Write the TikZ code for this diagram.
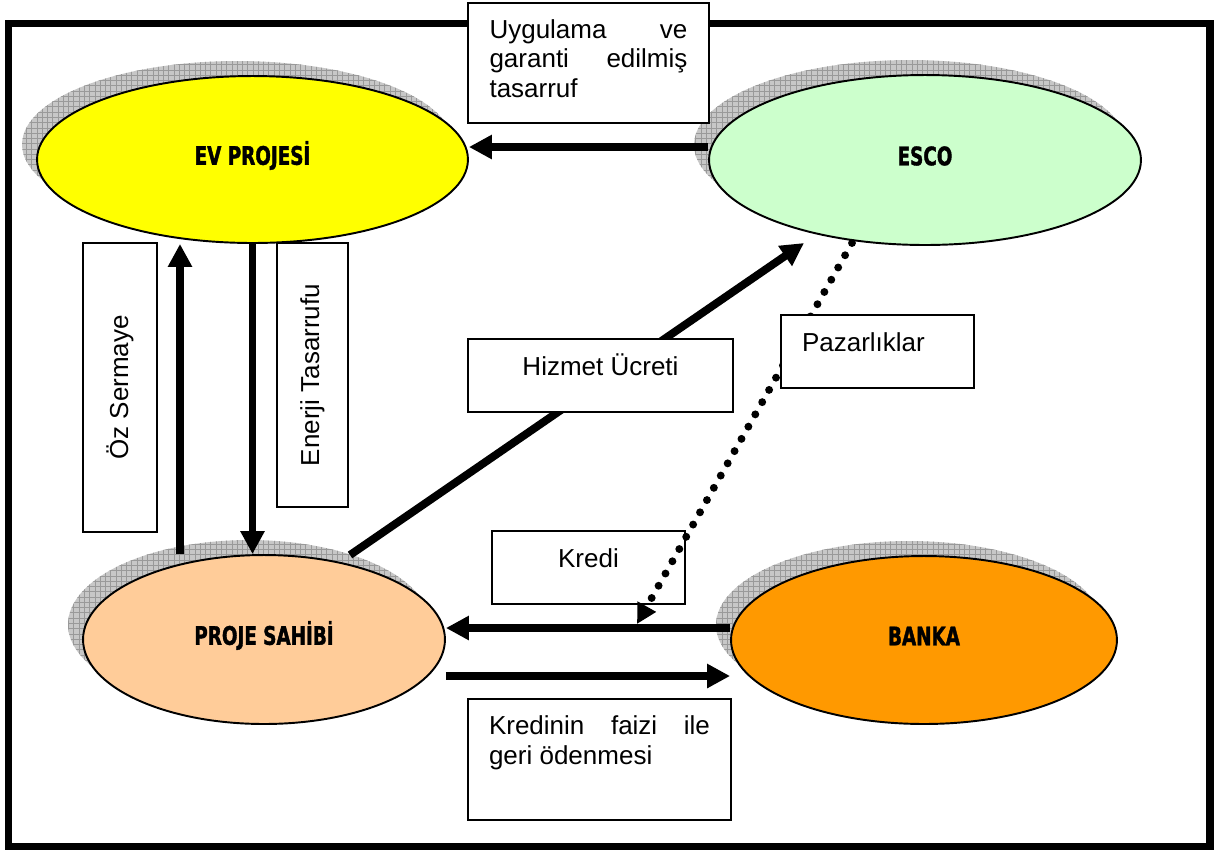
\documentclass[tikz,border=0pt]{standalone}
\usepackage{fontspec}
\setmainfont{Liberation Sans}
\newfontfamily\ellfont[FakeStretch=0.72, FakeBold=1.5]{DejaVu Sans}
\usetikzlibrary{shapes.geometric,arrows.meta,positioning,shadows,patterns,calc}
\definecolor{evsari}{RGB}{255,255,0}
\definecolor{escoyesil}{RGB}{204,255,204}
\definecolor{sahipten}{RGB}{255,204,153}
\definecolor{bankaturuncu}{RGB}{255,153,0}

\tikzset{
  ellnode/.style={ellipse, draw, line width=1.1pt, inner sep=0pt,
    font=\ellfont\bfseries\fontsize{14.5}{16}\selectfont, text height=10.5pt, text depth=4.5pt,
    general shadow={shadow xshift=-0.3cm, shadow yshift=0.3cm, fill=black!22},
    general shadow={shadow xshift=-0.3cm, shadow yshift=0.3cm, pattern=grid, pattern color=black!40}},
  kutu/.style={rectangle, draw, line width=1pt, fill=white, font=\fontsize{14.8}{17}\selectfont},
  ortala/.style={text height=10pt, text depth=10pt},
  akis/.style={line width=4.5pt, -{Triangle[length=0.46cm, width=0.46cm]}},
  noktali/.style={line width=4.5pt, line cap=round, dash pattern=on 0pt off 8pt, -{Triangle[length=0.4cm, width=0.4cm]}}
}

\begin{document}
\begin{tikzpicture}[x=0.02cm, y=-0.02cm]
\useasboundingbox (0,0) rectangle (1218,850);
% Cerceve
\draw[line width=4pt] (8.5,23.5) rectangle (1210,846);

% Elipsler
\node[ellnode, fill=evsari, minimum width=8.62cm, minimum height=3.34cm] (ev) at (252.5,159.5) {EV PROJESİ};
\node[ellnode, fill=escoyesil, minimum width=8.64cm, minimum height=3.4cm] (esco) at (925,160) {ESCO};
\node[ellnode, fill=sahipten, minimum width=7.24cm, minimum height=3.38cm] (proje) at (264,639.5) {PROJE SAHİBİ};
\node[ellnode, fill=bankaturuncu, minimum width=7.72cm, minimum height=3.36cm] (banka) at (924,640) {BANKA};

% Oklar
\coordinate (ozx) at (180,0);
\coordinate (usty) at (0,147);
\coordinate (krediy) at (0,628);
\coordinate (odemey) at (0,676);
\coordinate (hizbas) at (350,555);
\coordinate (hizuc) at (804,243);
\draw[akis] (ozx |- proje.north) -- (ozx |- ev.south);
\draw[akis] (ev.south) -- (ev.south |- proje.north);
\draw[akis] (esco.west |- usty) -- (ev.east |- usty);
\draw[akis] (hizbas) -- (hizuc);
\draw[akis] (banka.west |- krediy) -- (proje.east |- krediy);
\draw[akis] (proje.east |- odemey) -- (banka.west |- odemey);

% Pazarliklar (noktali)
\node[kutu, ortala, minimum width=3.86cm, minimum height=1.46cm] (kredi) at (588.5,567.5) {Kredi};
\coordinate (pzbas) at (852,243);
\coordinate (pzuc) at (637,624);
\draw[noktali] (pzbas) -- (pzuc);

% Kutular
\node[kutu, minimum width=4.82cm, minimum height=2.4cm, text width=3.96cm, align=justify] (uyg) at (588.5,63) {Uygulama ve\linebreak garanti edilmiş\linebreak tasarruf\strut};
\node[kutu, rotate=90, minimum width=5.78cm, minimum height=1.48cm] (oz) at (120,387.5) {Öz Sermaye};
\node[kutu, rotate=90, minimum width=5.28cm, minimum height=1.42cm] (enerji) at (312.5,375) {Enerji Tasarrufu};
\node[kutu, ortala, minimum width=5.3cm, minimum height=1.46cm] (hizmet) at (600.5,375.5) {Hizmet Ücreti};
\node[kutu, ortala, minimum width=3.86cm, minimum height=1.46cm, text width=3.02cm, align=left] (pazar) at (877.5,351.5) {Pazarlıklar};
\node[kutu, minimum width=5.26cm, minimum height=2.42cm, text width=4.42cm, align=justify] (faiz) at (599.5,759.5) {Kredinin faizi ile\linebreak geri ödenmesi\\ \strut};
\end{tikzpicture}
\end{document}
